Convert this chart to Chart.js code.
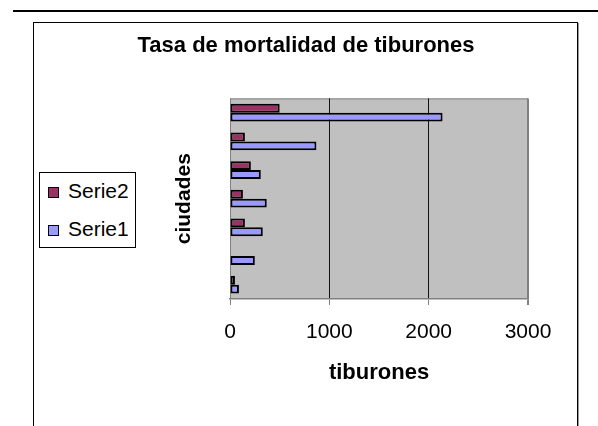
<!DOCTYPE html>
<html>
<head>
<meta charset="utf-8">
<script src="https://cdn.jsdelivr.net/npm/chart.js@4.4.0/dist/chart.umd.min.js"></script>
<style>
  body { margin: 0; background: #fff; font-family: 'Liberation Sans', Arial, sans-serif; }
  #wrap { position: relative; width: 598px; height: 426px; overflow: hidden; }
  #topline { position: absolute; left: 13px; top: 10px; width: 585px; height: 2px; background: #000; }
  #frame { position: absolute; left: 33px; top: 22px; width: 543px; height: 440px; border: 1px solid #000; box-shadow: 1px 1px 0 #999; }
  #legend { position: absolute; left: 39px; top: 172px; width: 95px; height: 74px; border: 1px solid #000; background: #fff; }
  #legend .swatch { position: absolute; left: 8px; width: 9px; height: 9px; border: 1px solid #000; }
  #legend .label { position: absolute; left: 28px; font-size: 21px; line-height: 21px; color: #000; }
  canvas { position: absolute; left: 0; top: 0; }
</style>
</head>
<body>
<div id="wrap">
  <div id="topline"></div>
  <div id="frame"></div>
  <canvas id="chart" width="598" height="426"></canvas>
  <div id="legend"></div>
</div>
<script>
// categories top to bottom (no labels are shown on the axis)
const categories = ['Ciudad 1', 'Ciudad 2', 'Ciudad 3', 'Ciudad 4', 'Ciudad 5', 'Ciudad 6', 'Ciudad 7'];
const serie1 = [2140, 870, 310, 370, 330, 250, 90];
const serie2 = [500, 150, 210, 130, 150, 0, 50];
const xTicks = [0, 1000, 2000, 3000];

const seriesNames = ['Serie2', 'Serie1'];
const seriesColors = ['#993366', '#9999FF'];

// silver plot area with grey top edge, drawn under grid and bars
const plotFrame = {
  id: 'plotFrame',
  beforeDraw(chart) {
    const { ctx, chartArea: a } = chart;
    ctx.save();
    ctx.fillStyle = '#c0c0c0';
    ctx.fillRect(a.left, a.top, a.right - a.left, a.bottom - a.top);
    ctx.strokeStyle = '#808080';
    ctx.lineWidth = 1;
    ctx.beginPath();
    ctx.moveTo(a.left, a.top + 0.5);
    ctx.lineTo(a.right, a.top + 0.5);
    ctx.stroke();
    ctx.restore();
  }
};

const ctx = document.getElementById('chart').getContext('2d');
const chart = new Chart(ctx, {
  type: 'bar',
  data: {
    labels: categories,
    datasets: [
      {
        label: seriesNames[0],
        data: serie2,
        backgroundColor: seriesColors[0],
        borderColor: '#000',
        borderWidth: 2,
        borderSkipped: false
      },
      {
        label: seriesNames[1],
        data: serie1,
        backgroundColor: seriesColors[1],
        borderColor: '#000',
        borderWidth: 2,
        borderSkipped: false
      }
    ]
  },
  options: {
    indexAxis: 'y',
    responsive: false,
    animation: false,
    devicePixelRatio: 1,
    categoryPercentage: 0.62,
    barPercentage: 1.0,
    layout: { padding: { left: 84, right: 70, top: 0, bottom: 0 } },
    plugins: {
      legend: { display: false },
      tooltip: { enabled: false },
      title: {
        display: true,
        text: 'Tasa de mortalidad de tiburones',
        color: '#000',
        font: { family: 'Liberation Sans', size: 22, weight: 'bold' },
        padding: { top: 33, bottom: 39 }
      }
    },
    scales: {
      x: {
        position: 'bottom',
        min: xTicks[0],
        max: xTicks[xTicks.length - 1],
        ticks: {
          stepSize: xTicks[1] - xTicks[0],
          color: '#000',
          padding: 15,
          font: { family: 'Liberation Sans', size: 21 },
          callback: v => String(v)
        },
        grid: {
          drawTicks: true,
          tickLength: 6,
          tickColor: '#808080',
          color: c => (c.tick && (c.tick.value === 0 || c.tick.value === 3000)) ? '#808080' : '#111',
          lineWidth: c => (c.tick && c.tick.value === 3000) ? 2 : 1
        },
        border: { display: true, color: '#808080', width: 1.5 },
        title: {
          display: true,
          text: 'tiburones',
          color: '#000',
          font: { family: 'Liberation Sans', size: 22, weight: 'bold' },
          padding: { top: 0, bottom: 40 }
        },
        afterFit: s => { s.height = 127; }
      },
      y: {
        ticks: { display: false },
        grid: { display: false },
        border: { display: false },
        title: {
          display: true,
          text: 'ciudades',
          color: '#000',
          font: { family: 'Liberation Sans', size: 21, weight: 'bold' },
          padding: { top: 88, bottom: 0 }
        },
        afterFit: s => { s.width = 146; }
      }
    }
  },
  plugins: [plotFrame]
});

// legend box built from the chart's datasets
const legend = document.getElementById('legend');
chart.data.datasets.forEach((ds, i) => {
  const sw = document.createElement('div');
  sw.className = 'swatch';
  sw.style.top = (14 + i * 38) + 'px';
  sw.style.background = ds.backgroundColor;
  const lb = document.createElement('div');
  lb.className = 'label';
  lb.style.top = (7 + i * 38) + 'px';
  lb.textContent = ds.label;
  legend.appendChild(sw);
  legend.appendChild(lb);
});
</script>
</body>
</html>
